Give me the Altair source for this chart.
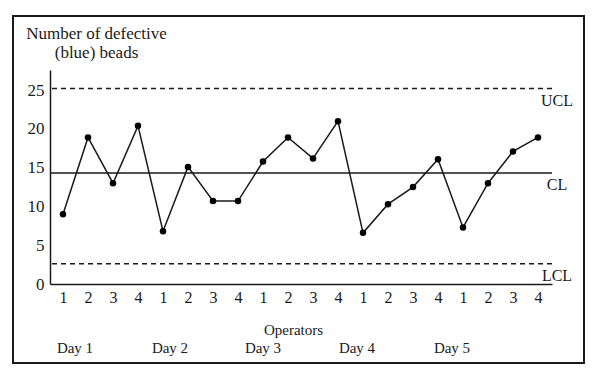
import altair as alt
import pandas as pd

# ---- data ----
operators = [1, 2, 3, 4] * 5
days = ["Day 1", "Day 2", "Day 3", "Day 4", "Day 5"]
day_label_pos = [0.48, 4.28, 8.0, 11.76, 15.56]
defects = [9.0, 18.9, 13.0, 20.4, 6.8, 15.1, 10.7, 10.7, 15.8, 18.9,
           16.2, 21.0, 6.6, 10.3, 12.5, 16.1, 7.3, 13.0, 17.1, 18.9]
limit_names = ["UCL", "CL", "LCL"]
limit_values = [25.2, 14.3, 2.6]
limit_dash = [[5, 4], [1, 0], [5, 4]]

FONT = "Liberation Serif"
INK = "#1a1a1a"

df = pd.DataFrame({"idx": list(range(len(defects))), "op": operators, "val": defects})
lim = pd.DataFrame({"name": limit_names, "val": limit_values})
day_df = pd.DataFrame({"day": days, "pos": day_label_pos})

xs = alt.Scale(domain=[-0.52, 19.56], nice=False, zero=False)
ys = alt.Scale(domain=[0, 27.6], nice=False)

xaxis = alt.Axis(values=list(range(20)), labelExpr="(datum.value % 4) + 1",
                 ticks=False, grid=False, labelPadding=5, labelOverlap=False,
                 labelFlush=False, labelBound=False, title="Operators",
                 titleX=243, titleY=38, titleFont=FONT, titleFontSize=15,
                 titleFontWeight="normal", titleColor=INK,
                 labelFont=FONT, labelFontSize=16, labelColor=INK,
                 domainColor=INK, domainWidth=1.5)
yaxis = alt.Axis(values=[0, 5, 10, 15, 20, 25], ticks=False, grid=False,
                 labelPadding=6, labelOverlap=False, labelFlush=False,
                 title=["Number of defective", "(blue) beads"],
                 titleAngle=0, titleAlign="center", titleBaseline="alphabetic",
                 titleX=46, titleY=-32, titleLineHeight=19,
                 titleFont=FONT, titleFontSize=17, titleFontWeight="normal",
                 titleColor=INK, labelFont=FONT, labelFontSize=17, labelColor=INK,
                 domainColor=INK, domainWidth=1.5)

base = alt.Chart(df)

frame = alt.Chart(pd.DataFrame({"a": [0]})).mark_rect(
    fill=None, stroke=INK, strokeWidth=2
).encode(x=alt.value(-37), x2=alt.value(534), y=alt.value(-54), y2=alt.value(79 + 214))

line = base.mark_line(color=INK, strokeWidth=1.5).encode(
    x=alt.X("idx:Q", scale=xs, axis=xaxis),
    y=alt.Y("val:Q", scale=ys, axis=yaxis),
)
pts = base.mark_circle(color="#000000", opacity=1, size=42).encode(
    x=alt.X("idx:Q", scale=xs, axis=xaxis), y=alt.Y("val:Q", scale=ys, axis=yaxis))

rules = []
for n, v, d in zip(limit_names, limit_values, limit_dash):
    rules.append(
        alt.Chart(pd.DataFrame({"val": [v]})).mark_rule(
            color=INK, strokeWidth=1.5, strokeDash=d
        ).encode(y=alt.Y("val:Q", scale=ys, axis=yaxis))
    )

lim_text = alt.Chart(lim).mark_text(
    font=FONT, fontSize=16, color=INK, align="center", baseline="middle", dy=12
).encode(x=alt.value(507), y=alt.Y("val:Q", scale=ys, axis=yaxis), text="name:N")

day_text = alt.Chart(day_df).mark_text(
    font=FONT, fontSize=15, color=INK, align="center", baseline="middle"
).encode(x=alt.X("pos:Q", scale=xs, axis=xaxis), y=alt.value(278), text="day:N")

chart = alt.layer(frame, *rules, line, pts, lim_text, day_text).properties(
    width=502, height=214,
    autosize=alt.AutoSizeParams(type="none"),
    padding={"left": 42, "top": 62, "right": 40, "bottom": 84},
    background="white",
).configure_view(stroke=None).configure_axisX(labelOverlap=False)

chart.save("out.html", embed_options={"renderer": "svg", "actions": False})
